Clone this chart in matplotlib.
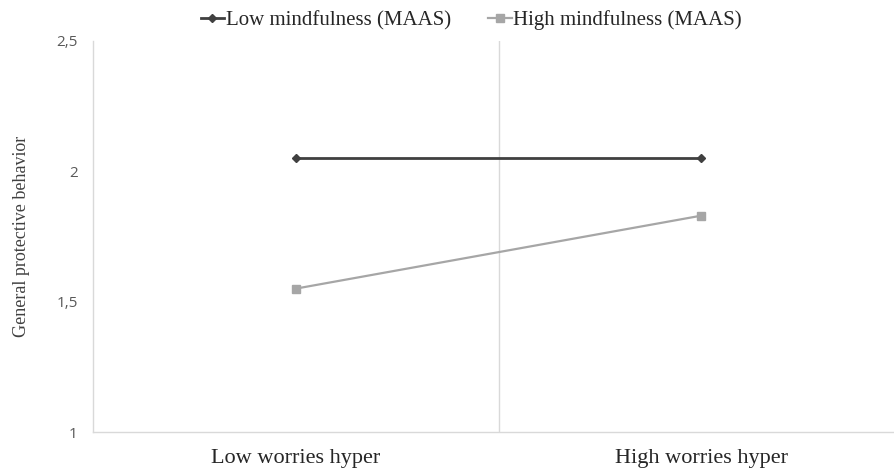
import matplotlib
matplotlib.use("Agg")
import matplotlib.pyplot as plt

# data
categories = ["Low worries hyper", "High worries hyper"]
low_mind = [2.05, 2.05]
high_mind = [1.55, 1.83]
series_names = ["Low mindfulness (MAAS)", "High mindfulness (MAAS)"]
y_ticks = [1, 1.5, 2, 2.5]
y_tick_labels = ["1", "1,5", "2", "2,5"]

serif = ["Liberation Serif", "DejaVu Serif"]
sans = ["Open Sans", "DejaVu Sans"]

fig = plt.figure(figsize=(8.94, 4.73), dpi=100)
ax = fig.add_axes([93 / 894, 41 / 473, 1 - 93 / 894, 391 / 473])

x = list(range(len(categories)))
ax.plot(x, low_mind, color="#404040", lw=2, marker="D", ms=4, label=series_names[0])
ax.plot(x, high_mind, color="#a6a6a6", lw=1.6, marker="s", ms=5.5, label=series_names[1])

# divider between the two categories
ax.axvline(0.5, color="#d9d9d9", lw=1, zorder=0)

ax.set_xlim(-0.5, 1.475)
ax.set_ylim(1, 2.5)
ax.set_yticks(y_ticks)
ax.set_yticklabels(y_tick_labels, family=sans, fontsize=11, color="#595959")
ax.set_xticks(x)
ax.set_xticklabels(categories, family=serif, fontsize=16, color="#262626")
ax.tick_params(axis="both", length=0)
ax.tick_params(axis="y", pad=11)
ax.tick_params(axis="x", pad=12)

for side in ["top", "right"]:
    ax.spines[side].set_visible(False)
for side in ["left", "bottom"]:
    ax.spines[side].set_color("#d9d9d9")
    ax.spines[side].set_linewidth(1)

ax.set_ylabel("General protective behavior", family=serif, fontsize=13, color="#404040", labelpad=19)

fig.legend(loc="upper center", bbox_to_anchor=(0.527, 1.018), ncol=2, frameon=False,
           prop={"family": serif, "size": 15}, handlelength=1.15, handletextpad=0.05,
           columnspacing=1.8, labelcolor="#262626")

fig.savefig("out.png", dpi=100)
